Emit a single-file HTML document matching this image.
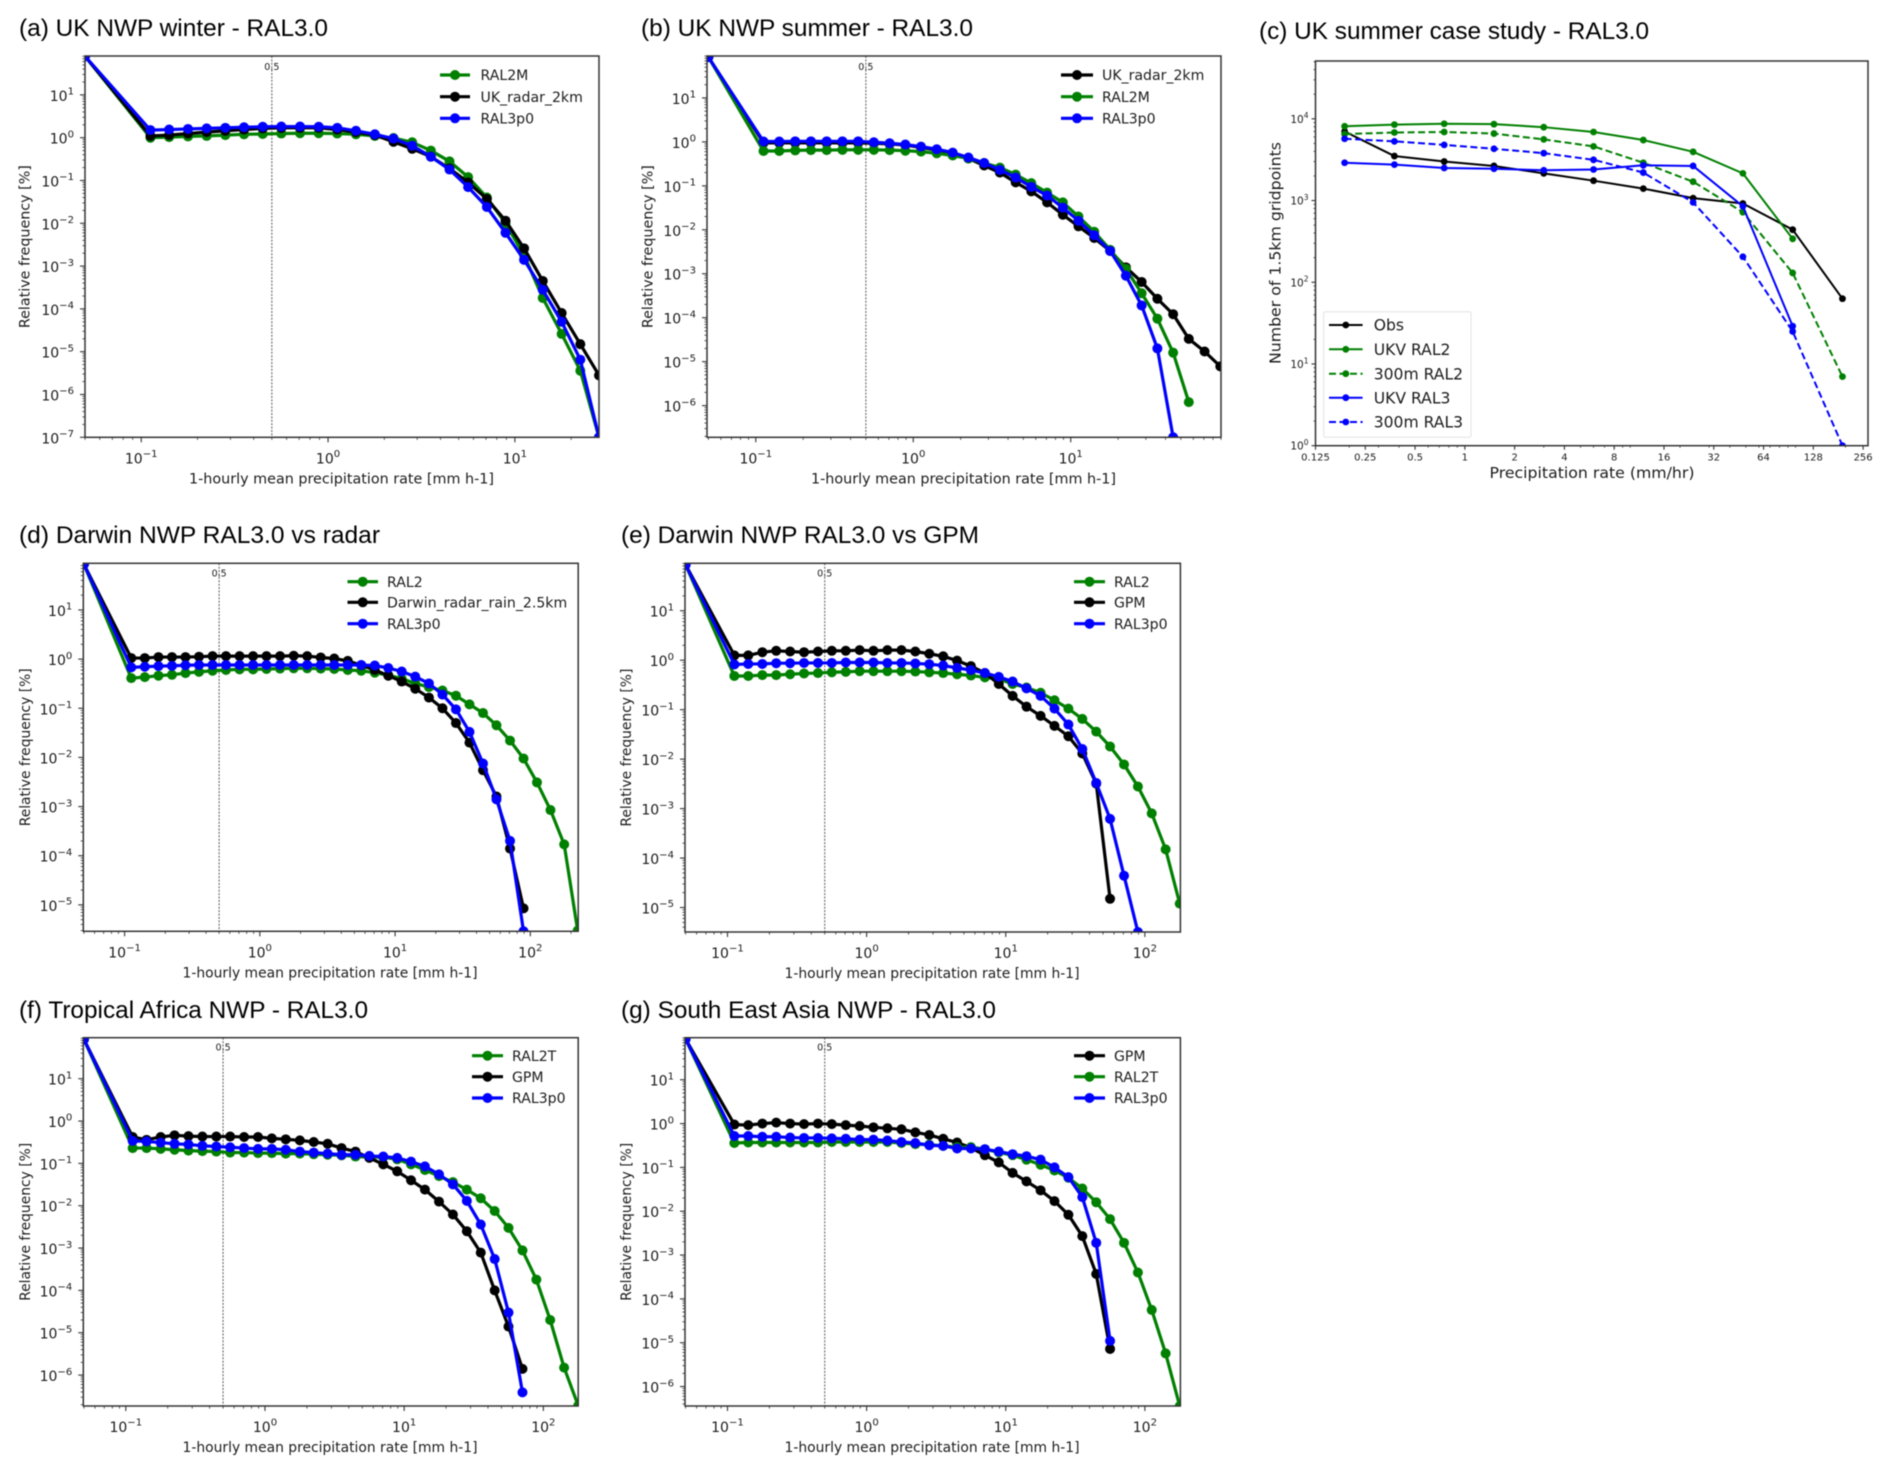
<!DOCTYPE html>
<html lang="en">
<head>
<meta charset="utf-8">
<title>RAL3.0 precipitation rate distributions</title>
<style>
html,body{margin:0;padding:0;background:#fff;width:1892px;height:1473px;overflow:hidden}
#fig{display:block;filter:blur(0.65px)}
.title{font-family:"Liberation Sans",Arial,sans-serif;font-size:24.5px;fill:#000}
.t{font-family:"DejaVu Sans",sans-serif;fill:#1c1c1c}
</style>
</head>
<body>
<svg id="fig" xmlns="http://www.w3.org/2000/svg" width="1892" height="1473" viewBox="0 0 1892 1473">
<rect x="0" y="0" width="1892" height="1473" fill="#fff"/>
<text class="title" x="19" y="36" textLength="309" lengthAdjust="spacingAndGlyphs">(a) UK NWP winter - RAL3.0</text>
<text class="title" x="641" y="36" textLength="332" lengthAdjust="spacingAndGlyphs">(b) UK NWP summer - RAL3.0</text>
<text class="title" x="1259" y="39" textLength="390" lengthAdjust="spacingAndGlyphs">(c) UK summer case study - RAL3.0</text>
<text class="title" x="19" y="543" textLength="361" lengthAdjust="spacingAndGlyphs">(d) Darwin NWP RAL3.0 vs radar</text>
<text class="title" x="621" y="543" textLength="358" lengthAdjust="spacingAndGlyphs">(e) Darwin NWP RAL3.0 vs GPM</text>
<text class="title" x="19" y="1018" textLength="349" lengthAdjust="spacingAndGlyphs">(f) Tropical Africa NWP - RAL3.0</text>
<text class="title" x="621" y="1018" textLength="375" lengthAdjust="spacingAndGlyphs">(g) South East Asia NWP - RAL3.0</text>
</svg>
<script>
// ---------- shared categories ----------
const rateBins = [0.05,0.112,0.141,0.178,0.224,0.282,0.355,0.447,0.562,0.708,0.891,1.12,1.41,1.78,2.24,2.82,3.55,4.47,5.62,7.08,8.91,11.2,14.1,17.8,22.4,28.2,35.5,44.7,56.2,70.8,89.1,112,141,178,224];
const caseBins = [0.1875,0.375,0.75,1.5,3,6,12,24,48,96,192];
const caseTickLabels = ["0.125","0.25","0.5","1","2","4","8","16","32","64","128","256"];
const caseTickValues = [0.125,0.25,0.5,1,2,4,8,16,32,64,128,256];

// ---------- panel (a) ----------
const aRal2m = [80,1.0,1.03,1.07,1.1,1.15,1.2,1.22,1.25,1.27,1.27,1.25,1.2,1.1,0.98,0.78,0.5,0.28,0.12,0.04,0.01,0.0018,0.00018,0.000026,0.0000036,1e-7];
const aRadar = [80,1.1,1.15,1.25,1.35,1.45,1.55,1.65,1.7,1.7,1.7,1.55,1.35,1.15,0.8,0.55,0.36,0.19,0.09,0.037,0.0115,0.0026,0.00045,0.00008,0.000015,0.0000028];
const aRal3 = [80,1.5,1.55,1.6,1.65,1.7,1.75,1.8,1.82,1.82,1.8,1.7,1.45,1.2,0.95,0.65,0.36,0.18,0.07,0.024,0.006,0.0014,0.00028,0.00005,0.0000065,1e-7];

// ---------- panel (b) ----------
const bRadar = [85,0.95,0.95,0.95,0.95,0.95,0.95,0.95,0.93,0.9,0.85,0.75,0.65,0.52,0.42,0.29,0.2,0.12,0.075,0.042,0.022,0.012,0.0065,0.0033,0.0014,0.00065,0.00027,0.00012,0.000033,0.000017,0.0000078];
const bRal2m = [85,0.62,0.62,0.64,0.65,0.65,0.66,0.66,0.66,0.65,0.63,0.6,0.55,0.49,0.42,0.33,0.26,0.18,0.115,0.07,0.042,0.02,0.009,0.0035,0.0013,0.00036,0.000095,0.000016,0.0000012];
const bRal3 = [85,1.02,1.02,1.03,1.03,1.03,1.03,1.03,0.98,0.93,0.87,0.78,0.68,0.57,0.44,0.33,0.23,0.155,0.095,0.06,0.032,0.016,0.0075,0.0033,0.0009,0.00019,0.00002,1.9e-7];

// ---------- panel (c) ----------
const cObs = [7000,3500,3000,2650,2150,1750,1400,1070,920,440,63];
const cUkvRal2 = [8100,8500,8700,8600,7900,6900,5500,3950,2150,340];
const c300Ral2 = [6500,6800,6900,6600,5600,4600,2900,1700,720,130,7];
const cUkvRal3 = [2900,2750,2500,2450,2350,2400,2700,2650,850,29];
const c300Ral3 = [5700,5300,4800,4300,3800,3150,2200,950,205,25,1];

// ---------- panel (d) ----------
const dRal2 = [85,0.41,0.43,0.46,0.48,0.52,0.55,0.58,0.6,0.62,0.62,0.63,0.64,0.65,0.65,0.64,0.63,0.6,0.58,0.53,0.47,0.4,0.32,0.27,0.23,0.18,0.12,0.08,0.045,0.022,0.0095,0.0031,0.00085,0.00017,3e-6];
const dRadar = [85,1.05,1.05,1.1,1.1,1.1,1.12,1.15,1.15,1.15,1.15,1.15,1.15,1.17,1.15,1.08,1.03,0.92,0.75,0.6,0.46,0.35,0.25,0.165,0.1,0.05,0.02,0.0055,0.0016,0.00014,0.0000085];
const dRal3 = [85,0.68,0.7,0.72,0.73,0.75,0.76,0.76,0.76,0.76,0.76,0.76,0.76,0.76,0.76,0.76,0.76,0.76,0.76,0.74,0.66,0.56,0.44,0.32,0.19,0.095,0.033,0.0075,0.0014,0.0002,2.9e-6];

// ---------- panel (e) ----------
const eRal2 = [85,0.48,0.48,0.5,0.5,0.52,0.54,0.55,0.57,0.58,0.6,0.6,0.6,0.6,0.59,0.57,0.55,0.52,0.49,0.45,0.42,0.33,0.28,0.22,0.155,0.105,0.065,0.036,0.018,0.0078,0.0028,0.0008,0.00015,0.000012];
const eGpm = [85,1.25,1.25,1.45,1.55,1.5,1.45,1.5,1.55,1.55,1.6,1.55,1.6,1.6,1.5,1.35,1.2,0.98,0.76,0.55,0.33,0.19,0.115,0.075,0.047,0.029,0.013,0.0032,0.000015];
const eRal3 = [85,0.82,0.84,0.84,0.87,0.87,0.88,0.88,0.88,0.9,0.9,0.9,0.88,0.88,0.86,0.83,0.78,0.7,0.63,0.55,0.46,0.37,0.27,0.19,0.105,0.05,0.016,0.0033,0.00062,0.000044,3.2e-6];

// ---------- panel (f) ----------
const fRal2t = [85,0.23,0.23,0.22,0.21,0.2,0.195,0.19,0.18,0.18,0.175,0.175,0.17,0.17,0.165,0.16,0.155,0.145,0.14,0.14,0.125,0.095,0.07,0.05,0.036,0.024,0.015,0.0075,0.003,0.00088,0.00018,0.00002,1.5e-6,1.9e-7];
const fGpm = [85,0.42,0.36,0.42,0.46,0.44,0.43,0.43,0.43,0.42,0.42,0.39,0.37,0.35,0.32,0.29,0.23,0.19,0.135,0.095,0.065,0.04,0.024,0.0125,0.0062,0.0025,0.00078,0.0001,0.000014,1.4e-6];
const fRal3 = [85,0.34,0.33,0.31,0.29,0.28,0.26,0.25,0.24,0.23,0.22,0.22,0.21,0.19,0.18,0.17,0.16,0.16,0.15,0.145,0.135,0.11,0.085,0.055,0.032,0.013,0.0036,0.00055,0.00003,3.9e-7];

// ---------- panel (g) ----------
const gGpm = [85,0.95,0.92,1.0,1.05,1.0,0.97,1.0,0.97,0.92,0.88,0.82,0.78,0.74,0.63,0.55,0.45,0.37,0.28,0.19,0.13,0.075,0.048,0.03,0.017,0.0083,0.0027,0.00037,0.0000072];
const gRal2t = [85,0.36,0.37,0.37,0.37,0.37,0.37,0.37,0.38,0.38,0.38,0.38,0.38,0.36,0.34,0.33,0.31,0.29,0.29,0.26,0.22,0.19,0.15,0.115,0.085,0.058,0.033,0.016,0.0066,0.0019,0.0004,0.000056,0.0000057,3.6e-7];
const gRal3 = [85,0.52,0.52,0.5,0.5,0.48,0.47,0.47,0.46,0.45,0.43,0.43,0.41,0.38,0.36,0.32,0.31,0.27,0.27,0.26,0.23,0.2,0.18,0.15,0.1,0.06,0.021,0.0019,0.000011];

const GREEN = '#008000', BLACK = '#000000', BLUE = '#0000ff';
const NS = 'http://www.w3.org/2000/svg';
const fig = document.getElementById('fig');

function mk(tag, attrs, parent) {
  const n = document.createElementNS(NS, tag);
  for (const k in attrs) n.setAttribute(k, attrs[k]);
  (parent || fig).appendChild(n);
  return n;
}

const panels = [
  {id:'a', box:[85,56,599,437.3], xd:[0.05,28.2], yd:[1e-7,81], xlab:[305,341.5], ylabW:163, ylabX:25.5, thr:14,
   leg:{h:[440,470], t:480.5, y:[75,96.7,118.3]},
   series:[['RAL2M',aRal2m,GREEN],['UK_radar_2km',aRadar,BLACK],['RAL3p0',aRal3,BLUE]]},
  {id:'b', box:[707,56,1221,437.3], xd:[0.049,90], yd:[1.9e-7,90], xlab:[305,963.5], ylabW:163, ylabX:648.5, thr:14,
   leg:{h:[1061,1093], t:1102, y:[75,96.7,118.3]},
   series:[['UK_radar_2km',bRadar,BLACK],['RAL2M',bRal2m,GREEN],['RAL3p0',bRal3,BLUE]]},
  {id:'d', box:[83.3,563.3,578.2,931.3], xd:[0.0495,226], yd:[2.9e-6,89], xlab:[295,330], ylabW:158, ylabX:26, thr:13,
   leg:{h:[347.5,378], t:387, y:[581.7,602.3,623.7]},
   series:[['RAL2',dRal2,GREEN],['Darwin_radar_rain_2.5km',dRadar,BLACK],['RAL3p0',dRal3,BLUE]]},
  {id:'e', box:[685,563.3,1180.4,932], xd:[0.0495,180], yd:[3.2e-6,91], xlab:[295,932], ylabW:158, ylabX:627, thr:13,
   leg:{h:[1074,1105], t:1114, y:[581.7,602.3,623.7]},
   series:[['RAL2',eRal2,GREEN],['GPM',eGpm,BLACK],['RAL3p0',eRal3,BLUE]]},
  {id:'f', box:[83.3,1037.7,578.2,1406], xd:[0.0495,178], yd:[1.86e-7,93], xlab:[295,330], ylabW:158, ylabX:26, thr:13,
   leg:{h:[472,503], t:512, y:[1055.7,1076.7,1098]},
   series:[['RAL2T',fRal2t,GREEN],['GPM',fGpm,BLACK],['RAL3p0',fRal3,BLUE]]},
  {id:'g', box:[685,1037.7,1180.4,1406], xd:[0.0495,180], yd:[3.6e-7,91], xlab:[295,932], ylabW:158, ylabX:627, thr:13,
   leg:{h:[1074,1105], t:1114, y:[1055.7,1076.7,1098]},
   series:[['GPM',gGpm,BLACK],['RAL2T',gRal2t,GREEN],['RAL3p0',gRal3,BLUE]]}
];

function logScale(d, r) {
  const a = Math.log10(d[0]), b = Math.log10(d[1]);
  return v => r[0] + (Math.log10(v) - a) / (b - a) * (r[1] - r[0]);
}

function sci(parent, x, y, exp, anchor, fs, name) {
  const t = mk('text', {x:x, y:y, 'text-anchor':anchor, class:'t', 'font-size':fs}, parent);
  
  
  t.appendChild(document.createTextNode('10'));
  const s = mk('tspan', {dy:-fs*0.45, 'font-size':fs*0.72}, t);
  s.textContent = String(exp).replace('-', '\u2212');
  return t;
}

function drawAxes(g, x, y, box, xd, yd, small) {
  const L = box[0], T = box[1], R = box[2], B = box[3];
  const frame = mk('rect', {x:L, y:T, width:R-L, height:B-T, fill:'none', stroke:'#333', 'stroke-width':1.5}, g);
  
  
  const majorLen = small ? 4 : 5, minorLen = small ? 2 : 2.6;
  // y ticks
  for (let e = Math.floor(Math.log10(yd[0])); e <= Math.ceil(Math.log10(yd[1])); e++) {
    for (let m = 1; m < 10; m++) {
      const v = m * Math.pow(10, e);
      if (v < yd[0] * 0.999 || v > yd[1] * 1.001) continue;
      const yy = y(v);
      const tk = mk('line', {x1:L, x2:L-(m===1?majorLen:minorLen), y1:yy, y2:yy, stroke:'#333', 'stroke-width':m===1?1.1:0.8}, g);
      
      
      if (m === 1) {
        if (small) sci(g, L-7, yy+4, e, 'end', 10.5, 'y-tick-label');
        else sci(g, L-11, yy+6, e, 'end', 14, 'y-tick-label');
      }
    }
  }
  // x ticks (decade sub-divisions)
  for (let e = Math.floor(Math.log10(xd[0])); e <= Math.ceil(Math.log10(xd[1])); e++) {
    for (let m = 1; m < 10; m++) {
      const v = m * Math.pow(10, e);
      if (v < xd[0] * 0.999 || v > xd[1] * 1.001) continue;
      const xx = x(v);
      const major = (m === 1) && !small;
      const tk = mk('line', {x1:xx, x2:xx, y1:B, y2:B+(major?majorLen:minorLen), stroke:'#333', 'stroke-width':major?1.1:0.8}, g);
      
      
      if (major) sci(g, xx, B+26, e, 'middle', 14, 'x-tick-label');
    }
  }
}

function drawLabels(g, xText, xCenter, xBase, xW, yText, yLabelX, yCenter, yW, fs) {
  const xl = mk('text', {x:xCenter, y:xBase, 'text-anchor':'middle', class:'t', 'font-size':fs, textLength:xW, lengthAdjust:'spacingAndGlyphs'}, g);
  
  
  xl.textContent = xText;
  const yl = mk('text', {x:0, y:0, transform:'translate('+yLabelX+','+yCenter+') rotate(-90)', 'text-anchor':'middle', 'dominant-baseline':'middle', class:'t', 'font-size':fs, textLength:yW, lengthAdjust:'spacingAndGlyphs'}, g);
  
  
  yl.textContent = yText;
}

function drawSeries(g, xs, vals, col, x, y, clipId, lw, r, dash, name) {
  const sg = mk('g', {'clip-path':'url(#'+clipId+')'}, g);
  
  
  const pts = vals.map((v, i) => x(xs[i]).toFixed(2) + ',' + y(v).toFixed(2)).join(' ');
  const attrs = {points:pts, fill:'none', stroke:col, 'stroke-width':lw, 'stroke-linejoin':'round'};
  if (dash) attrs['stroke-dasharray'] = dash;
  const pl = mk('polyline', attrs, sg);
  
  
  vals.forEach((v, i) => {
    const c = mk('circle', {cx:x(xs[i]).toFixed(2), cy:y(v).toFixed(2), r:r, fill:col}, sg);
    
    
  });
}

function legendRow(g, x1, x2, tx, yy, label, col, lw, r, dash, fs) {
  const e = mk('g', {}, g);
  
  
  const attrs = {x1:x1, x2:x2, y1:yy, y2:yy, stroke:col, 'stroke-width':lw};
  if (dash) attrs['stroke-dasharray'] = dash;
  const l = mk('line', attrs, e);
  
  
  const c = mk('circle', {cx:(x1+x2)/2, cy:yy, r:r, fill:col}, e);
  
  
  const t = mk('text', {x:tx, y:yy+fs*0.36, class:'t', 'font-size':fs}, e);
  
  
  t.textContent = label;
}

panels.forEach(p => {
  const g = mk('g', {});
  
  
  const [L, T, R, B] = p.box;
  const x = logScale(p.xd, [L, R]);
  const y = logScale(p.yd, [B, T]);
  const clipId = 'clip-' + p.id;
  const cp = mk('clipPath', {id:clipId}, g);
  mk('rect', {x:L, y:T, width:R-L, height:B-T}, cp);
  // threshold marker
  const vl = mk('line', {x1:x(0.5), x2:x(0.5), y1:T, y2:B, stroke:'#444', 'stroke-width':0.9, 'stroke-dasharray':'2 1.4'}, g);
  
  
  const vt = mk('text', {x:x(0.5), y:T+p.thr, 'text-anchor':'middle', class:'t', 'font-size':9.5, fill:'#555'}, g);
  
  
  vt.textContent = '0.5';
  p.series.forEach(s => {
    drawSeries(g, rateBins, s[1], s[2], x, y, clipId, 3.2, 5, null, 'series-' + s[0].toLowerCase().replace(/[^a-z0-9]+/g, '-'));
  });
  drawAxes(g, x, y, p.box, p.xd, p.yd, false);
  drawLabels(g, '1-hourly mean precipitation rate [mm h-1]', p.xlab[1], B+46, p.xlab[0], 'Relative frequency [%]', p.ylabX, (T+B)/2, p.ylabW, 14);
  p.series.forEach((s, i) => legendRow(g, p.leg.h[0], p.leg.h[1], p.leg.t, p.leg.y[i], s[0], s[2], 3.2, 5, null, 14.1));
});

// panel (c) has its own axes
(function () {
  const g = mk('g', {});
  
  
  const box = [1315.5, 61, 1868, 445.7];
  const xd = [0.125, 274], yd = [1, 51000];
  const x = logScale(xd, [box[0], box[2]]);
  const y = logScale(yd, [box[3], box[1]]);
  const cp = mk('clipPath', {id:'clip-c'}, g);
  mk('rect', {x:box[0], y:box[1], width:box[2]-box[0], height:box[3]-box[1]}, cp);
  const series = [
    ['Obs', cObs, BLACK, null],
    ['UKV RAL2', cUkvRal2, GREEN, null],
    ['300m RAL2', c300Ral2, GREEN, '7 3.5'],
    ['UKV RAL3', cUkvRal3, BLUE, null],
    ['300m RAL3', c300Ral3, BLUE, '7 3.5']
  ];
  series.forEach(s => {
    drawSeries(g, caseBins, s[1], s[2], x, y, 'clip-c', 2, 3.4, s[3], 'series-' + s[0].toLowerCase().replace(/ /g, '-'));
  });
  drawAxes(g, x, y, box, xd, yd, true);
  caseTickValues.forEach((v, i) => {
    const xx = x(v);
    const tk = mk('line', {x1:xx, x2:xx, y1:box[3], y2:box[3]+4, stroke:'#333', 'stroke-width':1.1}, g);
    
    
    const tl = mk('text', {x:xx, y:box[3]+15, 'text-anchor':'middle', class:'t', 'font-size':10}, g);
    
    
    tl.textContent = caseTickLabels[i];
  });
  drawLabels(g, 'Precipitation rate (mm/hr)', 1592, 478, 205, 'Number of 1.5km gridpoints', 1276, 253, 222, 15.5);
  const frame = mk('rect', {x:1323.7, y:311.7, width:147.3, height:125.6, rx:2, fill:'#fff', 'fill-opacity':0.85, stroke:'#e2e2e2', 'stroke-width':1}, g);
  
  
  const rows = [325, 349.3, 373.7, 397.7, 422];
  series.forEach((s, i) => legendRow(g, 1329, 1362.6, 1373.7, rows[i], s[0], s[2], 2, 3.4, s[3], 15.6));
})();
</script>
</body>
</html>
